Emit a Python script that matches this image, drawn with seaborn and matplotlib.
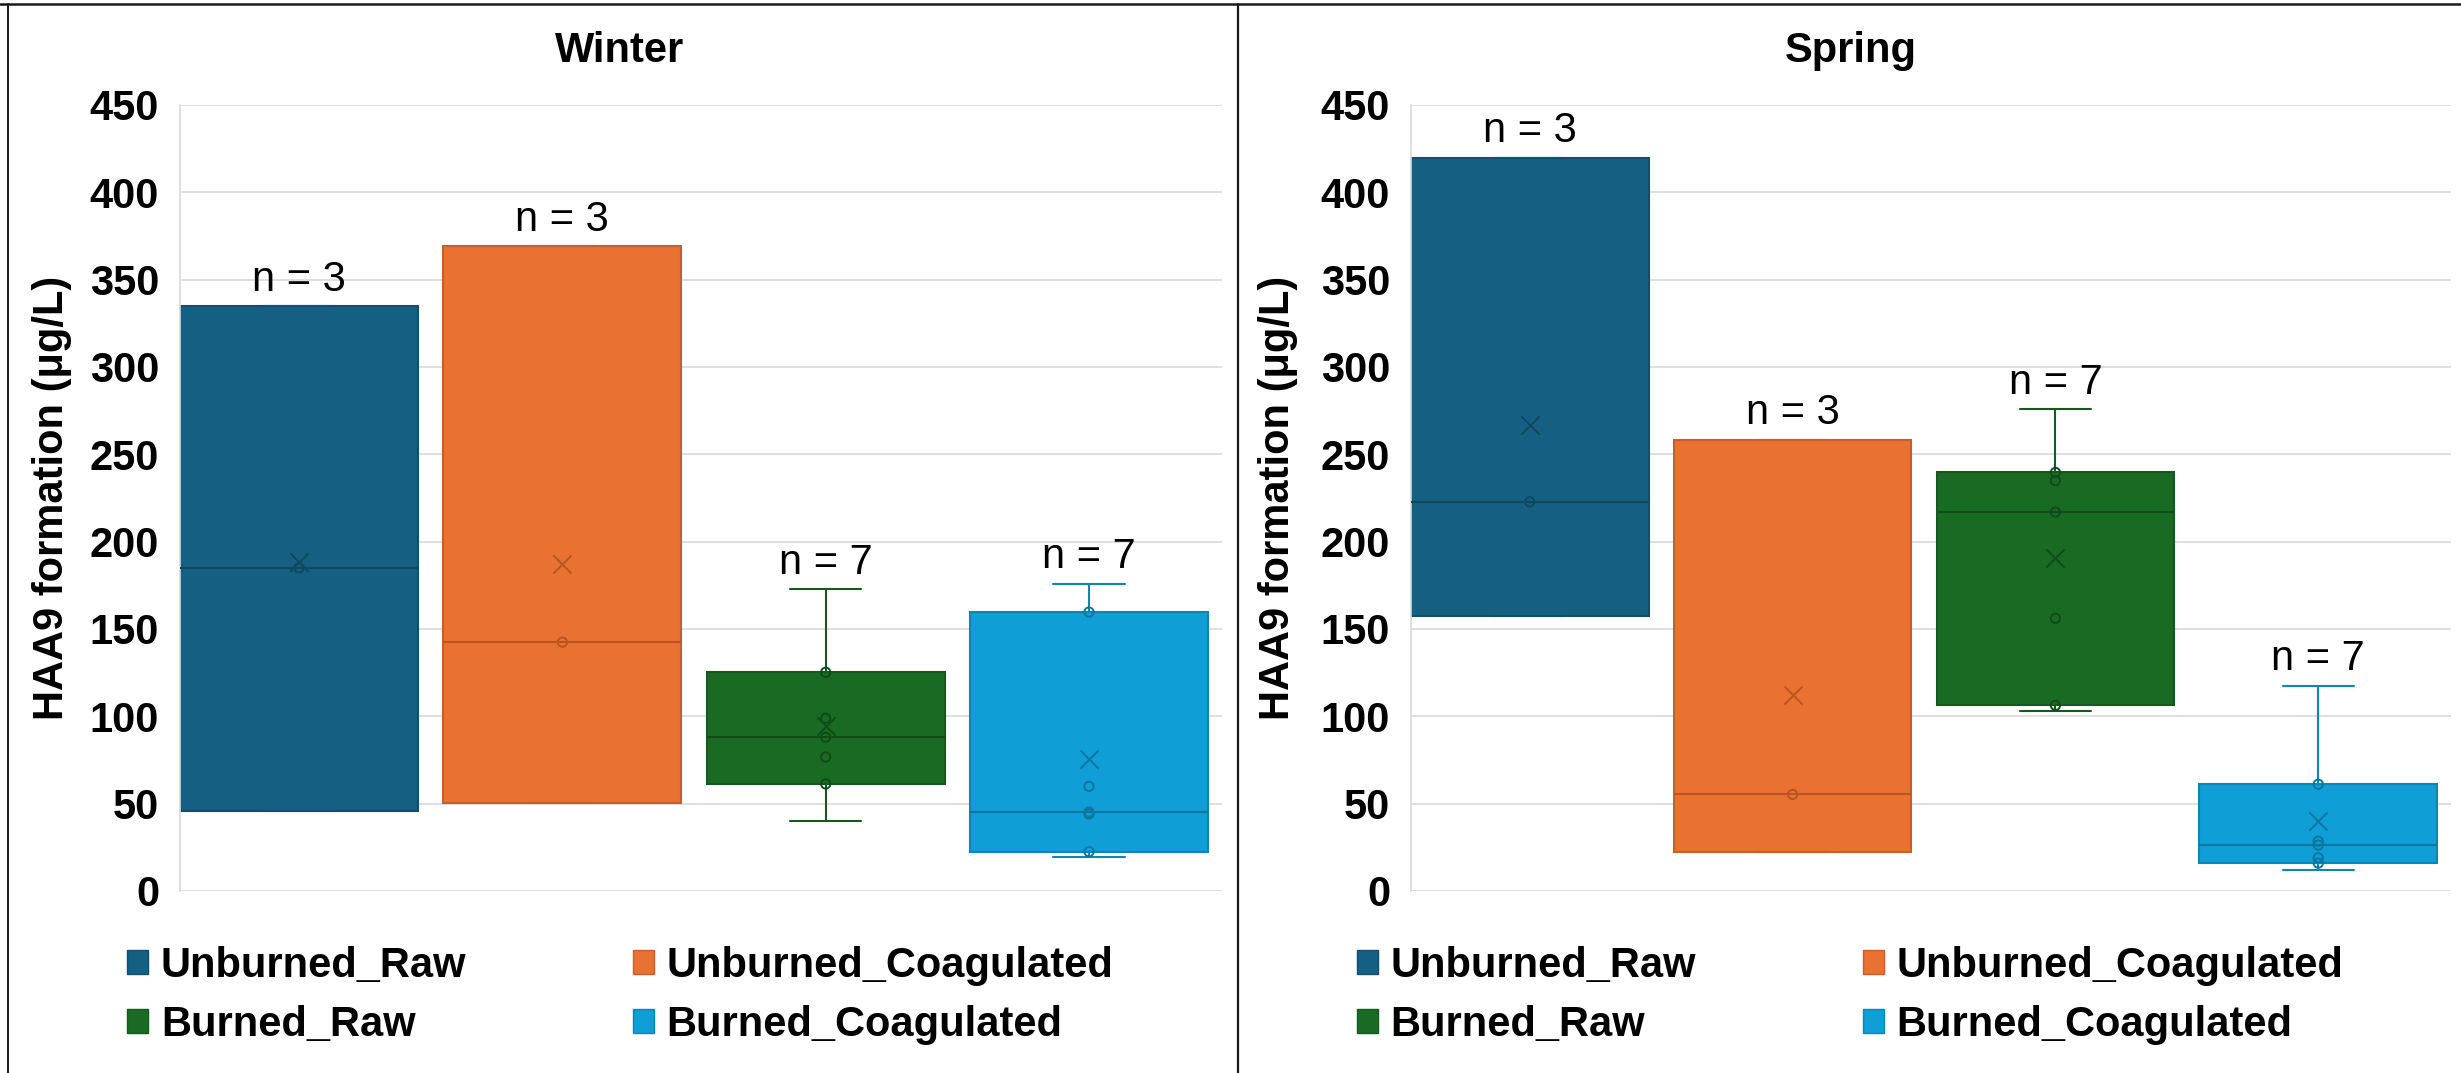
import numpy as np
import pandas as pd
import matplotlib
matplotlib.use("Agg")
import matplotlib.pyplot as plt
import seaborn as sns
from matplotlib.patches import Patch
from matplotlib.lines import Line2D

# ---------------- data ----------------
groups = ["Unburned_Raw", "Unburned_Coagulated", "Burned_Raw", "Burned_Coagulated"]
seasons = ["Winter", "Spring"]

winter_unburned_raw = [45.7, 185.0, 335.0]
winter_unburned_coag = [50.5, 142.5, 369.0]
winter_burned_raw = [39.9, 61.3, 76.7, 88.0, 98.9, 125.2, 172.9]
winter_burned_coag = [19.7, 22.5, 44.1, 45.2, 59.9, 159.7, 176.0]

spring_unburned_raw = [157.4, 222.8, 419.8]
spring_unburned_coag = [22.4, 55.3, 258.4]
spring_burned_raw = [103.1, 106.3, 156.1, 216.9, 234.9, 239.6, 276.0]
spring_burned_coag = [12.2, 16.0, 19.0, 26.3, 28.5, 61.1, 117.6]

yticks = [0, 50, 100, 150, 200, 250, 300, 350, 400, 450]
ylabel = "HAA9 formation (μg/L)"

face_colors = ["#156082", "#E97132", "#196B24", "#0F9ED5"]
edge_colors = ["#124F6B", "#C85F28", "#145A1E", "#0C86B5"]
inner_colors = ["#10485F", "#B8561F", "#104C18", "#0A77A0"]

season_data = {
    "Winter": [winter_unburned_raw, winter_unburned_coag, winter_burned_raw, winter_burned_coag],
    "Spring": [spring_unburned_raw, spring_unburned_coag, spring_burned_raw, spring_burned_coag],
}

rows = []
for s in seasons:
    for g, vals in zip(groups, season_data[s]):
        for v in vals:
            rows.append({"season": s, "group": g, "value": v})
df = pd.DataFrame(rows)

# ---------------- helpers ----------------
def quartile_exc(vals, p):
    s = np.sort(np.asarray(vals, dtype=float))
    n = len(s)
    pos = p * (n + 1)
    k = int(np.floor(pos))
    d = pos - k
    if k < 1:
        return s[0]
    if k >= n:
        return s[-1]
    return s[k - 1] + d * (s[k] - s[k - 1])


def excel_stats(vals):
    v = np.sort(np.asarray(vals, dtype=float))
    q1 = quartile_exc(v, 0.25)
    q3 = quartile_exc(v, 0.75)
    med = float(np.median(v))
    iqr = q3 - q1
    lo = v[v >= q1 - 1.5 * iqr].min()
    hi = v[v <= q3 + 1.5 * iqr].max()
    return dict(med=med, q1=q1, q3=q3, whislo=lo, whishi=hi,
                mean=float(v.mean()), fliers=np.array([]))


# ---------------- style ----------------
sns.set_theme(style="white")
plt.rcParams["font.family"] = ["Liberation Sans", "DejaVu Sans"]
plt.rcParams["text.color"] = "black"
plt.rcParams["axes.labelcolor"] = "black"
plt.rcParams["xtick.color"] = "black"
plt.rcParams["ytick.color"] = "black"

W, H = 2461, 1073
fig = plt.figure(figsize=(W / 100, H / 100), dpi=100)

FS = 30
xlim = (-0.452, 3.505)
panel_axes = {
    "Winter": (180, 1222),
    "Spring": (1411, 2451),
}
panel_title_x = {"Winter": 620, "Spring": 1851}
panel_legend_x = {"Winter": 127, "Spring": 1357}
ylabel_x = {"Winter": -0.104, "Spring": -0.109}
y_top, y_bot = 105, 891

for season in seasons:
    x0, x1 = panel_axes[season]
    ax = fig.add_axes([x0 / W, 1 - y_bot / H, (x1 - x0) / W, (y_bot - y_top) / H])
    sub = df[df["season"] == season]

    stats = [excel_stats(sub.loc[sub["group"] == g, "value"].values) for g in groups]
    art = ax.bxp(stats, positions=list(range(len(groups))), widths=0.904,
                 patch_artist=True, showfliers=False, showmeans=False,
                 capwidths=0.27, manage_ticks=False)
    for i in range(len(groups)):
        b = art["boxes"][i]
        b.set_facecolor(face_colors[i])
        b.set_edgecolor(edge_colors[i])
        b.set_linewidth(1.5)
        b.set_zorder(2)
        art["medians"][i].set_color(inner_colors[i])
        art["medians"][i].set_linewidth(1.5)
        art["medians"][i].set_zorder(3)
        for ln in art["whiskers"][2 * i:2 * i + 2] + art["caps"][2 * i:2 * i + 2]:
            ln.set_color(edge_colors[i])
            ln.set_linewidth(1.5)
            ln.set_zorder(2)

    # inner points (between whisker ends) and mean markers
    for i, g in enumerate(groups):
        vals = sub.loc[sub["group"] == g, "value"].values
        st = stats[i]
        inner = vals[(vals > st["whislo"]) & (vals < st["whishi"])]
        if len(inner):
            pts = pd.DataFrame({"pos": np.full(len(inner), i, dtype=float), "value": inner})
            sns.scatterplot(data=pts, x="pos", y="value", ax=ax, marker="o", s=45,
                            facecolor="none", edgecolor=inner_colors[i],
                            linewidth=1.4, zorder=4, legend=False)
        mdf = pd.DataFrame({"pos": [float(i)], "value": [st["mean"]]})
        sns.scatterplot(data=mdf, x="pos", y="value", ax=ax, marker="x", s=170,
                        color=inner_colors[i], linewidth=1.4, zorder=4, legend=False)
        ax.annotate(f"n = {len(vals)}", xy=(i, st["whishi"]), xytext=(0, 11),
                    textcoords="offset points", ha="center", va="baseline",
                    fontsize=FS, color="black")

    ax.set_xlim(*xlim)
    ax.set_ylim(0, 450)
    ax.set_yticks(yticks)
    ax.set_xticks([])
    ax.set_xlabel("")
    ax.set_ylabel(ylabel, fontsize=FS, fontweight="bold", color="black")
    ax.yaxis.set_label_coords(ylabel_x[season], 0.5)
    ax.tick_params(axis="y", length=0, pad=15, labelsize=FS, labelcolor="black")
    for lab in ax.get_yticklabels():
        lab.set_fontweight("bold")
    ax.set_axisbelow(True)
    ax.yaxis.grid(True, color="#D9D9D9", linewidth=1.2)
    ax.xaxis.grid(False)
    for sp in ["top", "right", "bottom"]:
        ax.spines[sp].set_visible(False)
    ax.spines["left"].set_color("#D9D9D9")
    ax.spines["left"].set_linewidth(1.2)
    ax.patch.set_alpha(0)

    fig.text(panel_title_x[season] / W, 1 - 62 / H, season, ha="center", va="baseline",
             fontsize=FS, fontweight="bold", color="black")

    handles = [Patch(facecolor=face_colors[i], edgecolor=edge_colors[i], linewidth=1.0)
               for i in range(len(groups))]
    order = [0, 2, 1, 3]
    leg = fig.legend([handles[k] for k in order], [groups[k] for k in order], ncol=2,
                     loc="upper left", bbox_to_anchor=(panel_legend_x[season] / W, 1 - 946 / H),
                     bbox_transform=fig.transFigure, frameon=False,
                     prop={"size": FS, "weight": "bold"},
                     handlelength=0.5, handleheight=0.5, handletextpad=0.31,
                     columnspacing=4.0, labelspacing=0.45, borderpad=0, borderaxespad=0)
    for t in leg.get_texts():
        t.set_color("black")

# frame lines
fig.add_artist(Line2D([0, 1], [1 - 4 / H, 1 - 4 / H], transform=fig.transFigure,
                      color="#1a1a1a", linewidth=1.8))
fig.add_artist(Line2D([8 / W, 8 / W], [0, 1 - 4 / H], transform=fig.transFigure,
                      color="#1a1a1a", linewidth=1.4))
fig.add_artist(Line2D([1238 / W, 1238 / W], [0, 1 - 4 / H], transform=fig.transFigure,
                      color="#1a1a1a", linewidth=1.6))

fig.savefig("out.png", dpi=100, facecolor="white")
